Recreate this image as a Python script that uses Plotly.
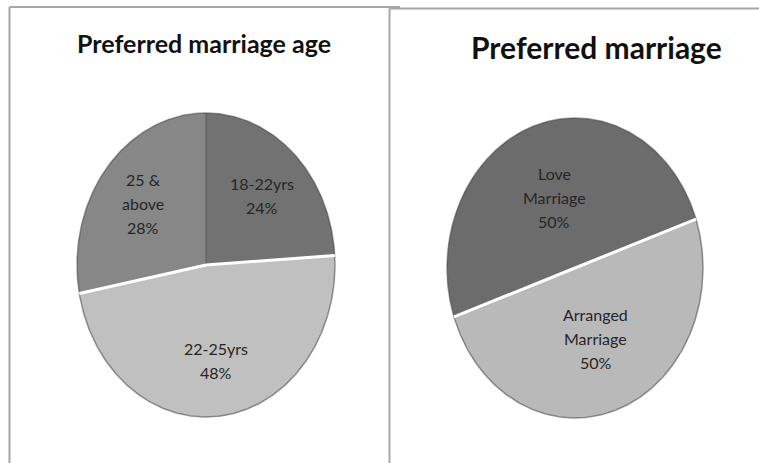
import numpy as np
import plotly.graph_objects as go

# Preferred marriage age
age_labels = ["18-22yrs", "22-25yrs", "25 &<br>above"]
age_values = [24, 48, 28]
age_colors = ["#727272", "#c0c0c0", "#878787"]

# Preferred marriage
type_labels = ["Arranged<br>Marriage", "Love<br>Marriage"]
type_values = [50, 50]
type_colors = ["#b9b9b9", "#6c6c6c"]

W, H = 759, 463
fig = go.Figure()


def ellipse_pie(cx, cy, a, b, labels, values, colors, start_deg, label_r,
                light_colors):
    total = float(sum(values))
    angles = [start_deg]
    for v in values:
        angles.append(angles[-1] + 360.0 * v / total)
    # filled wedges (angles clockwise from 12 o'clock)
    for i in range(len(values)):
        t = np.radians(np.linspace(angles[i], angles[i + 1], 240))
        xs = np.concatenate([[cx], cx + a * np.sin(t), [cx]])
        ys = np.concatenate([[cy], cy - b * np.cos(t), [cy]])
        fig.add_trace(go.Scatter(
            x=xs, y=ys, mode="lines", fill="toself", fillcolor=colors[i],
            line=dict(width=0, color=colors[i]), hoverinfo="text",
            hovertext=f"{labels[i].replace('<br>', ' ')}: {values[i]}%",
            showlegend=False))
    # rim shading
    t = np.radians(np.linspace(0, 360, 720))
    fig.add_trace(go.Scatter(
        x=cx + a * np.sin(t), y=cy - b * np.cos(t), mode="lines",
        line=dict(color="rgba(70,70,70,0.55)", width=1.5),
        hoverinfo="skip", showlegend=False))
    # radial boundaries: white edge beside light slices
    for k in range(len(values)):
        ang = np.radians(angles[k])
        prev_i = (k - 1) % len(values)
        is_light = colors[k] in light_colors or colors[prev_i] in light_colors
        fig.add_trace(go.Scatter(
            x=[cx, cx + a * np.sin(ang)], y=[cy, cy - b * np.cos(ang)],
            mode="lines",
            line=dict(color="#ffffff" if is_light else "#5a5a5a",
                      width=3 if is_light else 1),
            hoverinfo="skip", showlegend=False))
    # percentage labels
    for i in range(len(values)):
        mid = np.radians((angles[i] + angles[i + 1]) / 2)
        lx = cx + label_r * a * np.sin(mid)
        ly = cy - label_r * b * np.cos(mid)
        lines = labels[i].split("<br>") + [f"{values[i]}%"]
        n = len(lines)
        for j, txt in enumerate(lines):
            fig.add_annotation(
                x=lx, y=ly + (j - (n - 1) / 2) * 24, text=txt,
                showarrow=False, xanchor="center", yanchor="middle",
                font=dict(family="Lato, 'Open Sans', sans-serif", size=16,
                          color="#262626"))


ellipse_pie(206, 265, 129, 152, age_labels, age_values, age_colors,
            0, 0.63, {"#c0c0c0"})
ellipse_pie(575, 268, 128, 150, type_labels, type_values, type_colors,
            71, 0.5, {"#b9b9b9"})

# chart titles
fig.add_annotation(x=204, y=43, text="<b>Preferred marriage age</b>",
                   showarrow=False, xanchor="center", yanchor="middle",
                   font=dict(family="Lato, sans-serif", size=25,
                             color="#111111"))
fig.add_annotation(x=596, y=47, text="<b>Preferred marriage</b>",
                   showarrow=False, xanchor="center", yanchor="middle",
                   font=dict(family="Lato, sans-serif", size=30,
                             color="#111111"))

# panel frames
frame = dict(color="#a6a6a6", width=2)
fig.add_shape(type="line", x0=9.5, y0=H, x1=9.5, y1=7, line=frame)
fig.add_shape(type="line", x0=9.5, y0=7, x1=400, y1=7, line=frame)
fig.add_shape(type="line", x0=389.5, y0=H, x1=389.5, y1=8.5, line=frame)
fig.add_shape(type="line", x0=389.5, y0=8.5, x1=W, y1=8.5, line=frame)

fig.update_layout(
    width=W, height=H, margin=dict(l=0, r=0, t=0, b=0),
    paper_bgcolor="white", plot_bgcolor="white",
    xaxis=dict(range=[0, W], visible=False, fixedrange=True),
    yaxis=dict(range=[H, 0], visible=False, fixedrange=True),
    showlegend=False,
)

fig.write_html("out.html")
